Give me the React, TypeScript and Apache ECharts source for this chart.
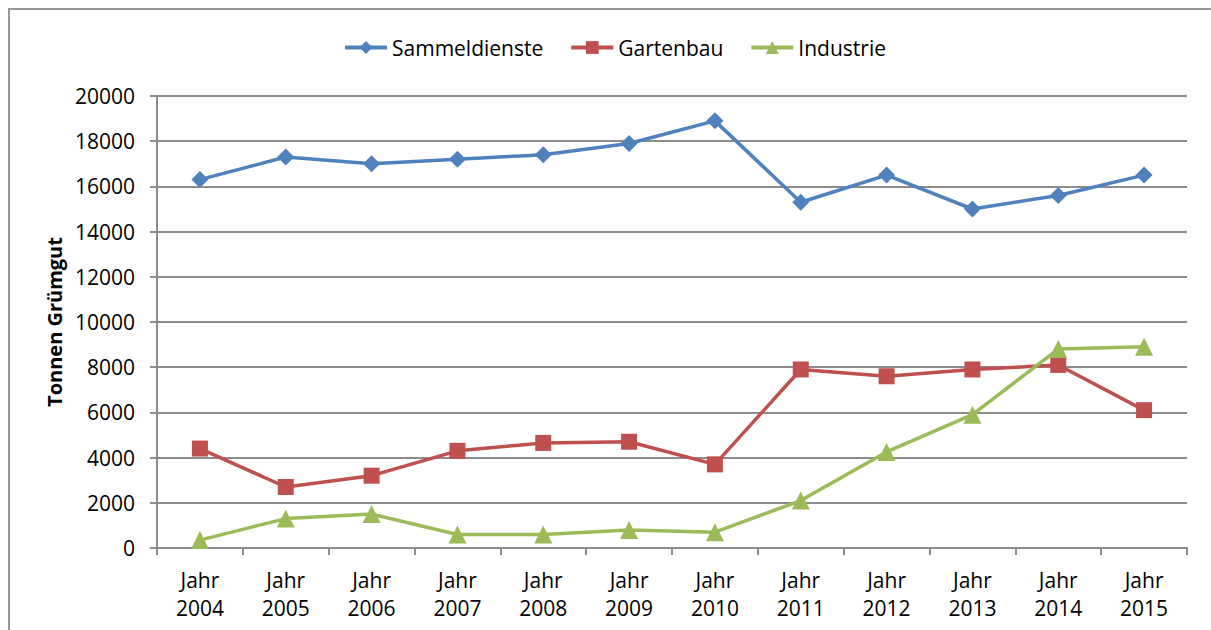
import React, { useEffect, useRef } from "react";
import * as echarts from "echarts";

const years = ["2004", "2005", "2006", "2007", "2008", "2009", "2010", "2011", "2012", "2013", "2014", "2015"];
const categories = years.map((y) => "Jahr\n" + y);
const sammeldienste = [16300, 17300, 17000, 17200, 17400, 17900, 18900, 15300, 16500, 15000, 15600, 16500];
const gartenbau = [4400, 2700, 3200, 4300, 4650, 4700, 3700, 7900, 7600, 7900, 8100, 6100];
const industrie = [350, 1300, 1500, 600, 600, 800, 700, 2100, 4250, 5900, 8800, 8900];

const FONT = "'Open Sans', 'Noto Sans', sans-serif";

export default function App() {
  const ref = useRef<HTMLDivElement>(null);
  useEffect(() => {
    if (!ref.current) return;
    document.documentElement.style.overflow = "hidden";
    const chart = echarts.init(ref.current, undefined, { renderer: "svg" });
    const mk = (name: string, data: number[], color: string, symbol: string, size: number) => ({
      name,
      type: "line",
      data,
      symbol,
      symbolSize: size,
      showAllSymbol: true,
      lineStyle: { color, width: 3.5 },
      itemStyle: { color },
      emphasis: { disabled: true },
    });
    chart.setOption({
      animation: false,
      textStyle: { fontFamily: FONT },
      legend: {
        top: 22,
        left: 328,
        itemWidth: 42,
        itemHeight: 16,
        itemGap: 26,
        lineStyle: { width: 4 },
        textStyle: { fontSize: 21, color: "#000", fontFamily: FONT },
        data: ["Sammeldienste", "Gartenbau", "Industrie"],
      },
      grid: { left: 147, width: 1030, top: 86, height: 452, containLabel: false },
      xAxis: {
        type: "category",
        data: categories,
        boundaryGap: true,
        axisLine: { lineStyle: { color: "#8c8c8c", width: 2 } },
        axisTick: { show: true, length: 7, lineStyle: { color: "#8c8c8c", width: 2 } },
        axisLabel: { color: "#000", fontSize: 21, lineHeight: 28, margin: 18, interval: 0, fontFamily: FONT },
      },
      yAxis: {
        type: "value",
        min: 0,
        max: 20000,
        interval: 2000,
        name: "Tonnen Grümgut",
        nameLocation: "middle",
        nameGap: 92,
        nameTextStyle: { fontSize: 20, fontWeight: "bold", color: "#000", fontFamily: FONT },
        axisLine: { show: true, lineStyle: { color: "#8c8c8c", width: 2 } },
        axisTick: { show: true, length: 7, lineStyle: { color: "#8c8c8c", width: 2 } },
        axisLabel: { color: "#000", fontSize: 21, margin: 22, fontFamily: FONT, formatter: (v: number) => String(v) },
        splitLine: { lineStyle: { color: "#8c8c8c", width: 2 } },
      },
      series: [
        mk("Sammeldienste", sammeldienste, "#4F81BD", "diamond", 17),
        mk("Gartenbau", gartenbau, "#C0504D", "rect", 16),
        mk("Industrie", industrie, "#9BBB59", "triangle", 18),
      ],
    });
    return () => chart.dispose();
  }, []);
  return (
    <div
      style={{
        position: "fixed",
        left: 8,
        top: 8,
        width: 1260,
        height: 660,
        boxSizing: "border-box",
        borderTop: "2px solid #969696",
        borderLeft: "2px solid #969696",
        background: "#fff",
        overflow: "hidden",
      }}
    >
      <div ref={ref} style={{ width: 1250, height: 650 }} />
    </div>
  );
}
